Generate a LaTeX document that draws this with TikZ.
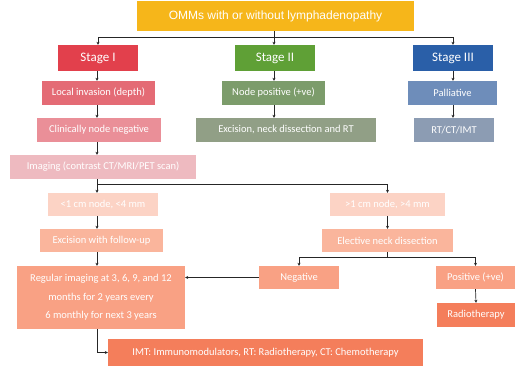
\documentclass[tikz,border=0pt]{standalone}
\usepackage{fontspec}
\setmainfont{Carlito}
\newfontfamily\arialfont{Liberation Sans}
\usetikzlibrary{arrows.meta,calc}
\definecolor{cyel}{HTML}{F6B61A}
\definecolor{cs1}{HTML}{E2404C}
\definecolor{cs2}{HTML}{5FA036}
\definecolor{cs3}{HTML}{2A5FA8}
\definecolor{clocal}{HTML}{E46B75}
\definecolor{cnpos}{HTML}{7C9C6B}
\definecolor{cpall}{HTML}{6E8DBA}
\definecolor{cclin}{HTML}{EA8F98}
\definecolor{cexn}{HTML}{919F86}
\definecolor{crt}{HTML}{8C9CB3}
\definecolor{cimg}{HTML}{EEBAC0}
\definecolor{clt}{HTML}{FCD3C5}
\definecolor{cexf}{HTML}{FAB59C}
\definecolor{cneg}{HTML}{F9A184}
\definecolor{crad}{HTML}{F47E5B}
\tikzset{
  bx/.style={rectangle, inner sep=1pt, text=white, font=\fontsize{10.5}{12}\selectfont, align=center},
  stagebox/.style={bx, font=\fontsize{13}{15}\selectfont},
  arr/.style={-{Stealth[length=3pt,width=3pt]}, line width=0.7pt, black!85},
  ln/.style={line width=0.7pt, black!85}
}
\begin{document}
\begin{tikzpicture}[x=1pt,y=-1pt]
\useasboundingbox (0,0) rectangle (521,367);
\node[bx, fill=cyel, minimum width=277pt, minimum height=30pt, font=\arialfont\fontsize{12}{14}\selectfont] (top) at (275.5,16) {OMMs with or without lymphadenopathy};
\node[stagebox, fill=cs1, minimum width=80pt, minimum height=26pt] (s1) at (98,58) {Stage I};
\node[stagebox, fill=cs2, minimum width=80pt, minimum height=26pt] (s2) at (275,58) {Stage II};
\node[stagebox, fill=cs3, minimum width=80pt, minimum height=26pt] (s3) at (453,58) {Stage III};
\node[bx, fill=clocal, minimum width=113pt, minimum height=24pt] (local) at (98.5,93) {Local invasion (depth)};
\node[bx, fill=cnpos, minimum width=103pt, minimum height=24pt] (npos) at (273.5,93) {Node positive (+ve)};
\node[bx, fill=cpall, minimum width=89pt, minimum height=24pt] (pall) at (452.5,93) {Palliative};
\node[bx, fill=cclin, minimum width=124pt, minimum height=24pt] (clin) at (99,130) {Clinically node negative};
\node[bx, fill=cexn, minimum width=180pt, minimum height=24pt] (exn) at (286,130) {Excision, neck dissection and RT};
\node[bx, fill=crt, minimum width=80pt, minimum height=24pt] (rt) at (454,130) {RT/CT/IMT};
\node[bx, fill=cimg, minimum width=186pt, minimum height=24pt] (img) at (103,167) {Imaging (contrast CT/MRI/PET scan)};
\node[bx, fill=clt, minimum width=110pt, minimum height=23pt] (lt) at (103,204.5) {<1 cm node, <4 mm};
\node[bx, fill=clt, minimum width=115pt, minimum height=23pt] (gt) at (387.5,204.5) {>1 cm node, >4 mm};
\node[bx, fill=cexf, minimum width=123pt, minimum height=23pt] (exf) at (101.5,240.5) {Excision with follow-up};
\node[bx, fill=cexf, minimum width=131pt, minimum height=23pt] (end) at (387.5,240.5) {Elective neck dissection};
\node[bx, fill=cneg, minimum width=80pt, minimum height=23pt] (neg) at (299,277.5) {Negative};
\node[bx, fill=cneg, minimum width=79pt, minimum height=23pt] (pos) at (475.5,277.5) {Positive (+ve)};
\node[bx, fill=crad, minimum width=78pt, minimum height=24pt] (rad) at (476,315) {Radiotherapy};
\node[bx, fill=cneg, minimum width=168pt, minimum height=63pt, font=\fontsize{10.5}{18.5}\selectfont] (reg) at (101,297.5) {Regular imaging at 3, 6, 9, and 12\\months for 2 years every\\6 monthly for next 3 years};
\node[bx, fill=crad, minimum width=315pt, minimum height=27pt] (imt) at (265.5,352.5) {IMT: Immunomodulators, RT: Radiotherapy, CT: Chemotherapy};
% helper coordinates
\coordinate (c1) at (97,0);
\coordinate (b1) at (274,37);
\coordinate (b2) at (97,184);
\coordinate (b3) at (387,257);
% connectors
\draw[ln] (top.south -| b1) -- (b1);
\draw[arr] (b1) -| (s1.north);
\draw[arr] (b1) -- (s2.north -| b1);
\draw[arr] (b1) -| (s3.north);
\draw[arr] (s1.south -| c1) -- (local.north -| c1);
\draw[arr] (local.south -| c1) -- (clin.north -| c1);
\draw[arr] (clin.south -| c1) -- (img.north -| c1);
\draw[arr] (s2.south -| b1) -- (npos.north -| b1);
\draw[arr] (npos.south -| b1) -- (exn.north -| b1);
\draw[arr] (s3.south) -- (pall.north -| s3.south);
\draw[arr] (pall.south -| s3.south) -- (rt.north -| s3.south);
\draw[arr] (img.south -| b2) -- (lt.north -| b2);
\draw[arr] (b2) -| (gt.north);
\draw[arr] (lt.south -| c1) -- (exf.north -| c1);
\draw[arr] (gt.south) -- (end.north);
\draw[arr] (exf.south -| c1) -- (reg.north -| c1);
\draw[ln] (end.south -| b3) -- (b3);
\draw[arr] (b3) -| (neg.north);
\draw[arr] (b3) -| (pos.north);
\draw[arr] (pos.south) -- (rad.north);
\draw[arr] (neg.west) -- (neg.west -| reg.east);
\draw[arr] (reg.south -| c1) |- (imt.west);
\end{tikzpicture}
\end{document}
